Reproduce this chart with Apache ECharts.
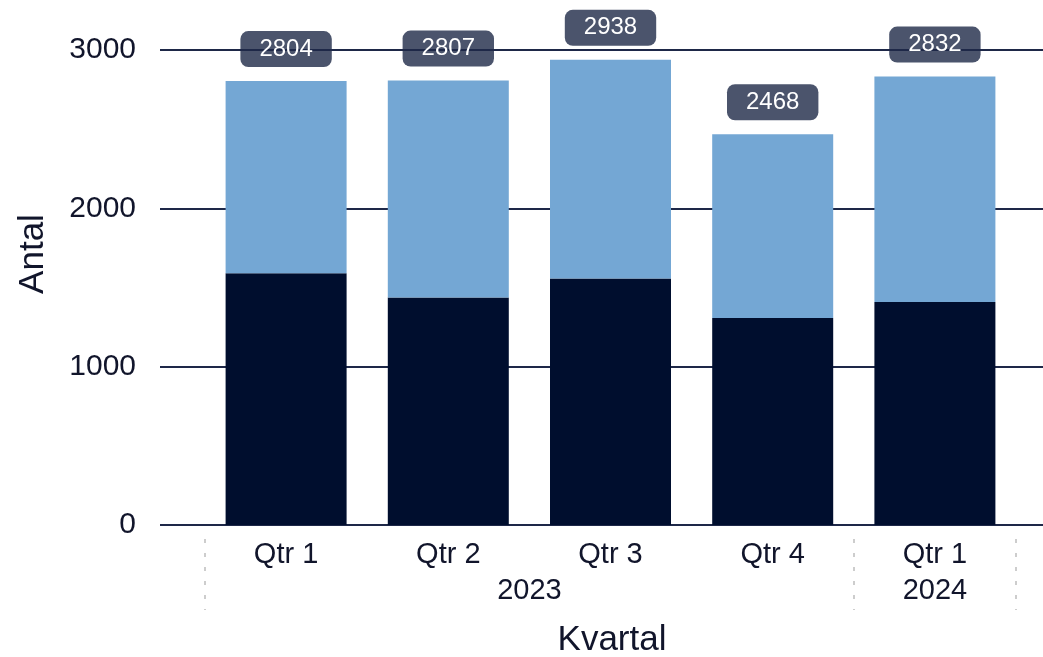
<!DOCTYPE html>
<html>
    <head>
        <meta charset="utf-8">
        <title>Antal per kvartal</title>
        <script src="https://cdn.jsdelivr.net/npm/echarts@6/dist/echarts.min.js"></script>
        <style>
            html, body { margin: 0; padding: 0; background: #fff; }
            #chart1 { width: 1043px; height: 657px; }
        </style>
    </head>
    <body>
        <div id="chart1"></div>
    </body>
    <script type="text/javascript">
        // data
        var quarters = ['Qtr 1', 'Qtr 2', 'Qtr 3', 'Qtr 4', 'Qtr 1'];
        var bottomValues = [1590, 1437, 1557, 1308, 1409];
        var topValues = [1214, 1370, 1381, 1160, 1423];
        var totals = [2804, 2807, 2938, 2468, 2832];
        var yearLabels = ['2023', '2024'];
        var yearPositions = [1.5, 4];      // centre of each year group (category index)
        var yearBreaks = [-0.5, 3.5, 4.5]; // dotted separators between groups
        var yTicks = [0, 1000, 2000, 3000];

        var font = 'Liberation Sans, Arial, sans-serif';
        var textColor = '#11152b';

        var myChart1 = echarts.init(document.getElementById('chart1'));

        // zlevel 0: label boxes, then gridlines on top of them
        // zlevel 1: bars and the white total text
        var option = {
            animation: false,
            backgroundColor: '#ffffff',
            textStyle: { fontFamily: font },
            grid: [
                // grid 0: only the y axis and its gridlines (wider than the bars)
                { left: 160, right: 0, top: 50, bottom: 132 },
                // grid 1: the bars
                { left: 205, right: 27, top: 50, bottom: 132 }
            ],
            xAxis: [
                { gridIndex: 0, type: 'value', min: 0, max: 1, show: false },
                {
                    gridIndex: 1,
                    type: 'category',
                    data: quarters,
                    axisLine: { show: false },
                    axisTick: { show: false },
                    axisLabel: { fontSize: 29, color: textColor, margin: 15, fontFamily: font }
                },
                {
                    gridIndex: 1,
                    type: 'value',
                    min: -0.5,
                    max: 4.5,
                    position: 'bottom',
                    offset: 14,
                    axisLine: { show: false },
                    splitLine: { show: false },
                    axisTick: {
                        show: true,
                        customValues: yearBreaks,
                        length: 71,
                        lineStyle: { color: '#cdcdcd', width: 2, type: [4, 10] }
                    },
                    axisLabel: {
                        customValues: yearPositions,
                        fontSize: 29,
                        color: textColor,
                        margin: 37,
                        fontFamily: font,
                        formatter: function (v) {
                            var i = yearPositions.indexOf(v);
                            return i >= 0 ? yearLabels[i] : '';
                        }
                    }
                }
            ],
            yAxis: [
                {
                    gridIndex: 0,
                    type: 'value',
                    min: yTicks[0],
                    max: yTicks[yTicks.length - 1],
                    interval: 1000,
                    zlevel: 0,
                    z: 5,
                    axisLine: { show: false },
                    axisTick: { show: false },
                    axisLabel: {
                        fontSize: 30,
                        color: textColor,
                        margin: 24,
                        fontFamily: font,
                        formatter: function (v) { return String(v); }
                    },
                    splitLine: { lineStyle: { color: '#1e2848', width: 2 } }
                },
                {
                    gridIndex: 1,
                    type: 'value',
                    min: yTicks[0],
                    max: yTicks[yTicks.length - 1],
                    show: false
                }
            ],
            graphic: [
                {
                    type: 'text',
                    x: 33,
                    y: 254,
                    rotation: Math.PI / 2,
                    style: {
                        text: 'Antal',
                        fontSize: 35,
                        fontFamily: font,
                        fill: textColor,
                        align: 'center',
                        verticalAlign: 'middle'
                    }
                },
                {
                    type: 'text',
                    x: 612,
                    y: 640,
                    style: {
                        text: 'Kvartal',
                        fontSize: 35,
                        fontFamily: font,
                        fill: textColor,
                        align: 'center',
                        verticalAlign: 'middle'
                    }
                }
            ],
            series: [
                {
                    name: 'nedre',
                    type: 'bar',
                    xAxisIndex: 1,
                    yAxisIndex: 1,
                    stack: 'total',
                    barWidth: 121,
                    zlevel: 1,
                    itemStyle: { color: '#000e2e' },
                    data: bottomValues
                },
                {
                    name: 'övre',
                    type: 'bar',
                    xAxisIndex: 1,
                    yAxisIndex: 1,
                    stack: 'total',
                    barWidth: 121,
                    zlevel: 1,
                    itemStyle: { color: '#74a7d4' },
                    data: topValues,
                    label: {
                        show: true,
                        position: 'top',
                        distance: 14,
                        color: '#ffffff',
                        fontSize: 24,
                        fontFamily: font,
                        lineHeight: 26,
                        padding: [5, 19],
                        formatter: function (p) { return String(totals[p.dataIndex]); }
                    }
                },
                {
                    name: 'summa',
                    type: 'scatter',
                    xAxisIndex: 1,
                    yAxisIndex: 1,
                    symbolSize: 0,
                    zlevel: 0,
                    z: 0,
                    silent: true,
                    itemStyle: { opacity: 1 },
                    data: totals,
                    label: {
                        show: true,
                        position: 'top',
                        distance: 14,
                        color: 'rgba(0,0,0,0)',
                        fontSize: 24,
                        fontFamily: font,
                        lineHeight: 26,
                        padding: [5, 19],
                        backgroundColor: '#4b546c',
                        borderRadius: 8
                    }
                }
            ]
        };
        myChart1.setOption(option);
    </script>
</html>
